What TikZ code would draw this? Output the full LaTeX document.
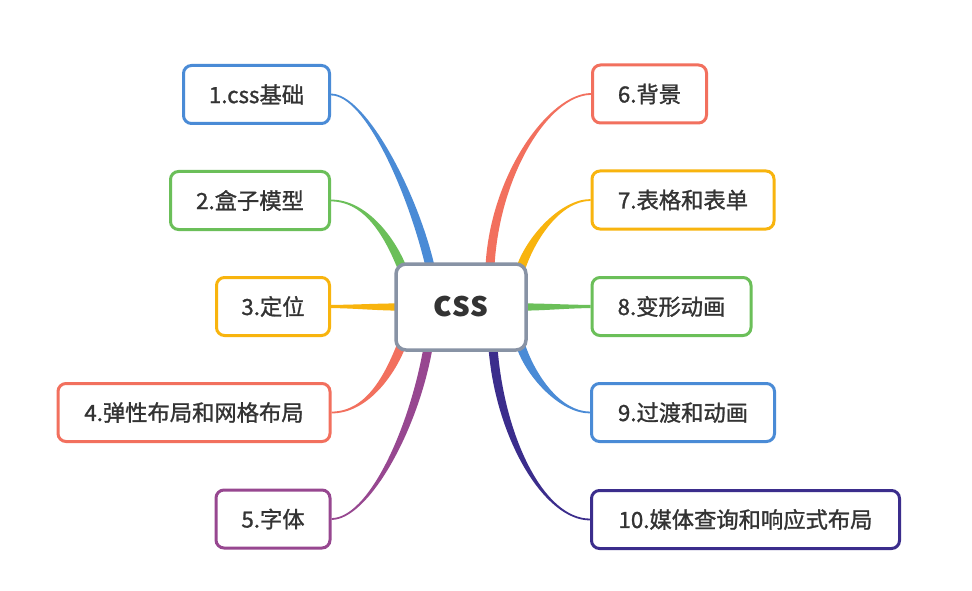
\documentclass[tikz,border=0pt]{standalone}
\usepackage{fontspec}
\setmainfont{Noto Sans CJK SC}
\newfontfamily\leaffont{Noto Sans CJK SC}[FakeBold=1.2]
\usetikzlibrary{calc}
\definecolor{cblue}{HTML}{4A8BD6}
\definecolor{cgreen}{HTML}{6BBF59}
\definecolor{corange}{HTML}{F8B40E}
\definecolor{cred}{HTML}{F2705E}
\definecolor{cpurple}{HTML}{974790}
\definecolor{cnavy}{HTML}{3B2D8C}
\definecolor{cgray}{HTML}{8893A5}
\definecolor{ctext}{HTML}{333333}
\pgfdeclarelayer{bg}
\pgfsetlayers{bg,main}
% #1 colour, #2 start, #3 first control offset, #4 second control offset, #5 end,
% #6 start half width, #7 end half width
\newcommand\mmbranch[7]{%
  \path #2 coordinate (bS) #5 coordinate (bE);
  \path ($(bS)+#3$) coordinate (bA) ($(bE)+#4$) coordinate (bB);
  \path ($(bS)!#6!90:(bA)$) coordinate (s1) ($(bS)!#6!-90:(bA)$) coordinate (s2)
        ($(bE)!#7!-90:(bB)$) coordinate (e1) ($(bE)!#7!90:(bB)$) coordinate (e2);
  \fill[#1] (s1) .. controls ($(bA)+(s1)-(bS)$) and ($(bB)+(e1)-(bE)$) .. (e1)
     -- (e2) .. controls ($(bB)+(e2)-(bE)$) and ($(bA)+(s2)-(bS)$) .. (s2) -- cycle;
}
\begin{document}
\begin{tikzpicture}[x=1pt,y=-1pt,
  leaf/.style={draw=#1, line width=3pt, rounded corners=8pt, fill=white,
    minimum height=58pt, text=ctext, font=\leaffont\fontsize{22.3}{26}\selectfont, inner sep=0pt},
  hub/.style={draw=cgray, line width=3.5pt, rounded corners=10pt, fill=white,
    minimum width=130pt, minimum height=86pt, text=ctext,
    font=\bfseries\fontsize{35}{40}\selectfont, inner sep=0pt}]
\useasboundingbox (0,0) rectangle (972,591);

\node[hub] (c) at (461,307) {css};

\node[leaf=cblue,   minimum width=146pt] (n1) at (256.5,94.5)  {1.css基础};
\node[leaf=cgreen,  minimum width=159pt] (n2) at (250,200.5)   {2.盒子模型};
\node[leaf=corange, minimum width=113pt] (n3) at (273,306.5)   {3.定位};
\node[leaf=cred,    minimum width=272pt] (n4) at (194,412.5)   {4.弹性布局和网格布局};
\node[leaf=cpurple, minimum width=114pt] (n5) at (273,519)     {5.字体};
\node[leaf=cred,    minimum width=114pt] (n6) at (649.5,94)    {6.背景};
\node[leaf=corange, minimum width=182pt] (n7) at (683,200)     {7.表格和表单};
\node[leaf=cgreen,  minimum width=159pt] (n8) at (671.5,306.5) {8.变形动画};
\node[leaf=cblue,   minimum width=183pt] (n9) at (683,412.5)   {9.过渡和动画};
\node[leaf=cnavy,   minimum width=308pt] (n10) at (745.5,519.5) {10.媒体查询和响应式布局};

\begin{pgfonlayer}{bg}
\fill[white] (0,0) rectangle (972,591);
\mmbranch{cblue}{($(c.north)+(-31,4)$)}{(-18,-76)}{(34,0)}{(n1.east)}{4.5pt}{0.9pt}
\mmbranch{cgreen}{($(c.north west)+(8,6)$)}{(-12,-30)}{(35,0)}{(n2.east)}{4.5pt}{0.9pt}
\mmbranch{corange}{($(c.west)+(4,0)$)}{(-20,0)}{(20,0)}{(n3.east)}{3.6pt}{1.6pt}
\mmbranch{cred}{($(c.south west)+(7,-6)$)}{(-12,30)}{(35,0)}{(n4.east)}{4.5pt}{0.9pt}
\mmbranch{cpurple}{($(c.south)+(-33,-4)$)}{(-15,85)}{(36,0)}{(n5.east)}{4.5pt}{0.9pt}
\mmbranch{cred}{($(c.north)+(29,4)$)}{(5,-93)}{(-41,0)}{(n6.west)}{4.5pt}{0.9pt}
\mmbranch{corange}{($(c.north east)+(-7,6)$)}{(10,-30)}{(-30,0)}{(n7.west)}{4.5pt}{0.9pt}
\mmbranch{cgreen}{($(c.east)+(-4,0)$)}{(20,0)}{(-20,0)}{(n8.west)}{3.6pt}{1.6pt}
\mmbranch{cblue}{($(c.south east)+(-7,-6)$)}{(10,30)}{(-30,0)}{(n9.west)}{4.5pt}{0.9pt}
\mmbranch{cnavy}{($(c.south)+(32,-4)$)}{(7,90)}{(-46,0)}{(n10.west)}{4.5pt}{0.9pt}
\end{pgfonlayer}
\end{tikzpicture}
\end{document}
